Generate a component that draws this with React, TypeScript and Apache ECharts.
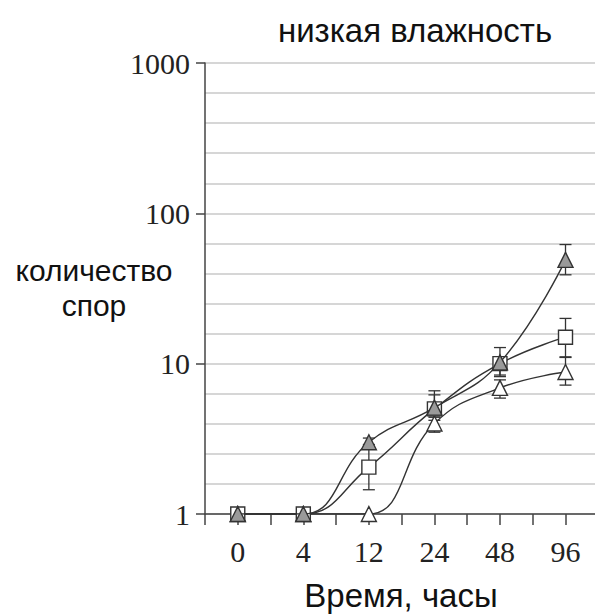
import React, { useEffect, useRef } from "react";
import * as echarts from "echarts";

const hours = ["0", "4", "12", "24", "48", "96"];
const filledTri = [1, 1, 3.0, 5.1, 10.2, 49];
const openSquare = [1, 1, 2.05, 5.0, 10.0, 15];
const openTri = [1, 1, 1, 4.0, 6.9, 8.8];
// [x index, low, high]
const filledTriErr = [[2, 2.8, 3.2], [3, 4.4, 6.2], [4, 8.4, 11.1], [5, 39, 62]];
const openSquareErr = [[2, 1.45, 2.9], [3, 4.2, 6.6], [4, 8.2, 12.8], [5, 11, 20]];
const openTriErr = [[3, 3.5, 4.5], [4, 5.9, 7.8], [5, 7.2, 11.1]];
const yTicks = [1, 10, 100, 1000];

const title = "низкая влажность";
const xName = "Время, часы";
const yName = "количество\nспор";

const INK = "#333";

function errSeries(data: number[][]) {
  return {
    type: "custom",
    xAxisIndex: 0,
    yAxisIndex: 0,
    z: 4,
    silent: true,
    encode: { x: 0, y: [1, 2] },
    data,
    renderItem: (params: any, api: any) => {
      const x = api.value(0);
      const a = api.coord([x, api.value(1)]);
      const b = api.coord([x, api.value(2)]);
      const w = 6;
      const st = { stroke: INK, lineWidth: 1.3 };
      return {
        type: "group",
        children: [
          { type: "line", shape: { x1: a[0], y1: a[1], x2: b[0], y2: b[1] }, style: st },
          { type: "line", shape: { x1: a[0] - w, y1: a[1], x2: a[0] + w, y2: a[1] }, style: st },
          { type: "line", shape: { x1: b[0] - w, y1: b[1], x2: b[0] + w, y2: b[1] }, style: st },
        ],
      };
    },
  };
}

function lineSeries(data: number[], symbol: string, size: number, fill: string, z: number) {
  return {
    type: "line",
    xAxisIndex: 0,
    yAxisIndex: 0,
    data: data.map((v, i) => [i, v]),
    smooth: 0.45,
    symbol,
    symbolSize: size,
    showAllSymbol: true,
    z,
    lineStyle: { color: INK, width: 1.4 },
    itemStyle: { color: fill, borderColor: INK, borderWidth: 1.4 },
  };
}

export default function App() {
  const ref = useRef<HTMLDivElement>(null);
  useEffect(() => {
    if (!ref.current) return;
    const chart = echarts.init(ref.current, null, { renderer: "svg" });
    chart.setOption({
      animation: false,
      backgroundColor: "#fff",
      grid: { left: 205, right: 0, top: 63, bottom: 101, containLabel: false },
      xAxis: {
        type: "value",
        min: -0.5,
        max: 5.45,
        interval: 0.5,
        splitLine: { show: false },
        axisLine: { onZero: false, lineStyle: { color: "#444", width: 1.5 } },
        axisTick: { show: true, length: 11, lineStyle: { color: "#444", width: 1.5 } },
        axisLabel: {
          margin: 22,
          color: "#222",
          fontFamily: "Liberation Serif",
          fontSize: 30,
          showMaxLabel: false,
          formatter: (v: number) => {
            const r = Math.round(v);
            return Math.abs(v - r) < 1e-6 && r >= 0 && r < hours.length ? hours[r] : "";
          },
        },
      },
      yAxis: [
        {
          type: "log",
          logBase: 10,
          min: yTicks[0],
          max: yTicks[yTicks.length - 1],
          z: 3,
          splitLine: { show: false },
          axisLine: { show: true, onZero: false, lineStyle: { color: "#444", width: 1.5 } },
          axisTick: { show: true, length: 9, lineStyle: { color: "#444", width: 1.5 } },
          axisLabel: {
            margin: 15,
            color: "#222",
            fontFamily: "Liberation Serif",
            fontSize: 30,
            formatter: (v: number) => (yTicks.indexOf(Math.round(v)) >= 0 ? String(Math.round(v)) : ""),
          },
        },
        {
          type: "value",
          min: 0,
          max: 3,
          interval: 0.2,
          position: "left",
          z: 0,
          axisLine: { show: false, onZero: false },
          axisTick: { show: false },
          axisLabel: { show: false },
          splitLine: { show: true, lineStyle: { color: "#c8c8c8", width: 1.5 } },
        },
      ],
      graphic: [
        {
          type: "text",
          x: 415,
          y: 30,
          style: { text: title, font: "33px 'Liberation Sans'", fill: "#111", align: "center", verticalAlign: "middle" },
        },
        {
          type: "text",
          x: 401,
          y: 595,
          style: { text: xName, font: "33px 'Liberation Sans'", fill: "#111", align: "center", verticalAlign: "middle" },
        },
        {
          type: "text",
          x: 94,
          y: 288,
          style: { text: yName, font: "30px 'Liberation Sans'", fill: "#111", align: "center", verticalAlign: "middle", lineHeight: 35 },
        },
      ],
      series: [
        lineSeries(openTri, "triangle", 15, "#fff", 5),
        lineSeries(openSquare, "rect", 14, "#fff", 6),
        lineSeries(filledTri, "triangle", 15, "#9a9a9a", 7),
        errSeries(openTriErr),
        errSeries(openSquareErr),
        errSeries(filledTriErr),
      ],
    });
    return () => chart.dispose();
  }, []);
  return <div ref={ref} style={{ position: "absolute", left: 0, top: 0, width: 595, height: 615 }} />;
}
